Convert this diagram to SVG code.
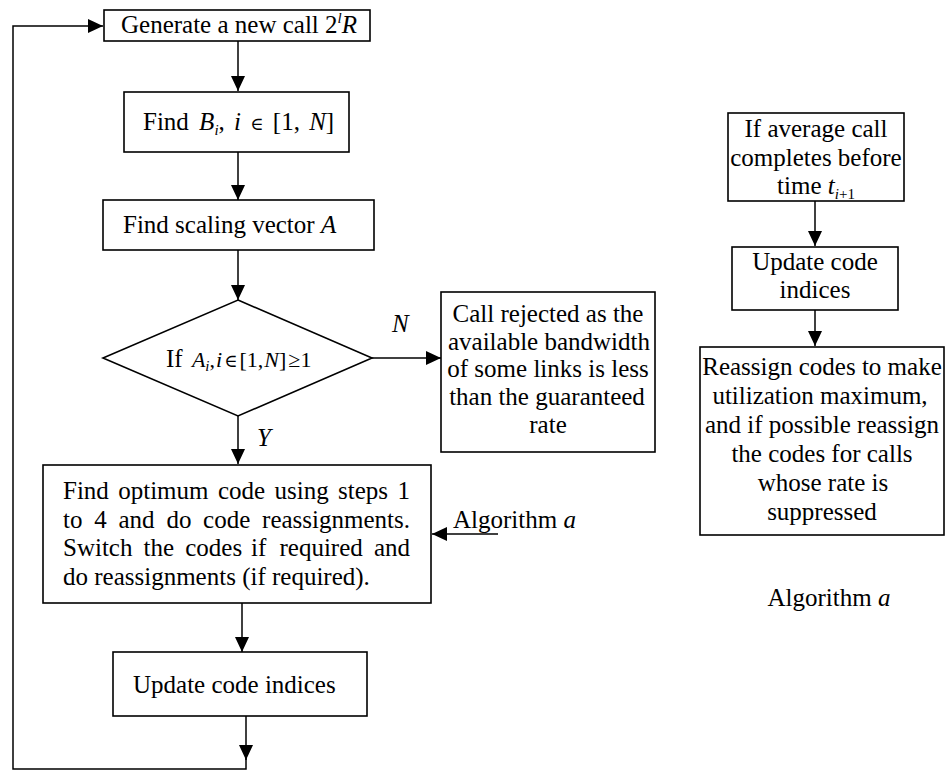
<svg xmlns="http://www.w3.org/2000/svg" width="945" height="770" viewBox="0 0 945 770">
  <defs>
    <style>
      .box { fill: #fff; stroke: #000; stroke-width: 1.6; }
      .ln { fill: none; stroke: #000; stroke-width: 1.5; }
      text { font-family: "Liberation Serif", "Times New Roman", "DejaVu Serif", serif; font-size: 25px; fill: #000; }
      .c { text-anchor: middle; }
      .it { font-style: italic; }
      .sub { font-size: 15px; font-style: italic; }
      .f22 { font-size: 22px; }
      .sym { font-family: "DejaVu Serif", serif; font-size: 18px; }
    </style>
    <marker id="arrow" markerUnits="userSpaceOnUse" markerWidth="15" markerHeight="14" refX="15" refY="7" orient="auto">
      <path d="M0,0 L15,7 L0,14 z" fill="#000"/>
    </marker>
  </defs>
  <rect width="945" height="770" fill="#fff"/>

  <!-- connectors -->
  <g id="connectors">
    <line class="ln" x1="238" y1="41" x2="238" y2="91" marker-end="url(#arrow)"/>
    <line class="ln" x1="238" y1="152" x2="238" y2="200" marker-end="url(#arrow)"/>
    <line class="ln" x1="238" y1="250" x2="238" y2="300" marker-end="url(#arrow)"/>
    <line class="ln" x1="238" y1="416" x2="238" y2="464" marker-end="url(#arrow)"/>
    <line class="ln" x1="372" y1="358" x2="441" y2="358" marker-end="url(#arrow)"/>
    <line class="ln" x1="242" y1="603" x2="242" y2="652" marker-end="url(#arrow)"/>
    <line class="ln" x1="246" y1="716" x2="246" y2="760" marker-end="url(#arrow)"/>
    <path class="ln" d="M246,758 V769 H13 V26 H103" marker-end="url(#arrow)"/>
    <line class="ln" x1="498" y1="534" x2="432" y2="534" marker-end="url(#arrow)"/>
    <line class="ln" x1="815" y1="201" x2="815" y2="246" marker-end="url(#arrow)"/>
    <line class="ln" x1="815" y1="310" x2="815" y2="346" marker-end="url(#arrow)"/>
    <text x="392" y="332" class="it">N</text>
    <text x="257" y="446" class="it">Y</text>
  </g>

  <g id="generate">
    <rect class="box" x="104" y="10" width="266" height="31"/>
    <text x="121" y="33">Generate a new call 2<tspan class="sub" dy="-10" font-size="14">l</tspan><tspan class="it" dy="10">R</tspan></text>
  </g>

  <g id="find-b">
    <rect class="box" x="124" y="92" width="225" height="60"/>
    <text x="143" y="130">Find <tspan class="it" dx="4">B</tspan><tspan class="sub" dy="5">i</tspan><tspan dy="-5">, </tspan><tspan class="it" dx="3">i</tspan> <tspan class="sym" font-size="21" dx="3">∈</tspan> <tspan dx="3">[1, </tspan><tspan class="it" dx="3">N</tspan>]</text>
  </g>

  <g id="find-a">
    <rect class="box" x="103" y="200" width="271" height="50"/>
    <text x="123" y="233">Find scaling vector <tspan class="it">A</tspan></text>
  </g>

  <g id="decision">
    <polygon class="box" points="238,300 372,358 238,416 103,358"/>
    <text x="166" y="367">If <tspan class="it f22" dx="3">A</tspan><tspan class="sub" font-size="13" dy="4">i</tspan><tspan class="f22" dy="-4">,</tspan><tspan class="it f22" dx="1">i</tspan><tspan class="sym" dx="2">∈</tspan><tspan class="f22" dx="2">[1,</tspan><tspan class="it f22" dx="1">N</tspan><tspan class="f22">]</tspan><tspan class="f22" dx="2">≥1</tspan></text>
  </g>

  <g id="rejected">
    <rect class="box" x="441" y="292" width="214" height="160"/>
    <text class="c" x="548" y="322">Call rejected as the</text>
    <text class="c" x="549" y="350">available bandwidth</text>
    <text class="c" x="548" y="377">of some links is less</text>
    <text class="c" x="547" y="405">than the guaranteed</text>
    <text class="c" x="548" y="433">rate</text>
  </g>

  <g id="optimum">
    <rect class="box" x="43" y="465" width="388" height="138"/>
    <text y="499"><tspan x="63">Find</tspan><tspan x="118.2">optimum</tspan><tspan x="217.9">code</tspan><tspan x="274.5">using</tspan><tspan x="338.1">steps</tspan><tspan x="397.5">1</tspan></text>
    <text y="528"><tspan x="63">to</tspan><tspan x="94.2">4</tspan><tspan x="118.5">and</tspan><tspan x="166.4">do</tspan><tspan x="203.1">code</tspan><tspan x="262.1">reassignments.</tspan></text>
    <text y="556"><tspan x="63">Switch</tspan><tspan x="143.5">the</tspan><tspan x="185.2">codes</tspan><tspan x="251">if</tspan><tspan x="279.5">required</tspan><tspan x="373.9">and</tspan></text>
    <text x="63" y="585">do reassignments (if required).</text>
  </g>

  <text x="453" y="528">Algorithm <tspan class="it">a</tspan></text>

  <g id="update-main">
    <rect class="box" x="113" y="652" width="254" height="64"/>
    <text x="133" y="693">Update code indices</text>
  </g>

  <g id="completes">
    <rect class="box" x="728" y="113" width="176" height="88"/>
    <text class="c" x="816" y="137">If average call</text>
    <text class="c" x="816" y="166">completes before</text>
    <text class="c" x="816" y="194">time <tspan class="it">t</tspan><tspan class="sub" dy="5">i</tspan><tspan font-size="15">+1</tspan></text>
  </g>

  <g id="update-side">
    <rect class="box" x="732" y="247" width="166" height="63"/>
    <text class="c" x="815" y="270">Update code</text>
    <text class="c" x="815" y="298">indices</text>
  </g>

  <g id="reassign">
    <rect class="box" x="700" y="347" width="244" height="188"/>
    <text class="c" x="822" y="375">Reassign codes to make</text>
    <text class="c" x="820" y="404">utilization maximum,</text>
    <text class="c" x="822" y="433">and if possible reassign</text>
    <text class="c" x="822" y="462">the codes for calls</text>
    <text class="c" x="823" y="491">whose rate is</text>
    <text class="c" x="822" y="520">suppressed</text>
  </g>

  <text class="c" x="829" y="606">Algorithm <tspan class="it">a</tspan></text>
</svg>
